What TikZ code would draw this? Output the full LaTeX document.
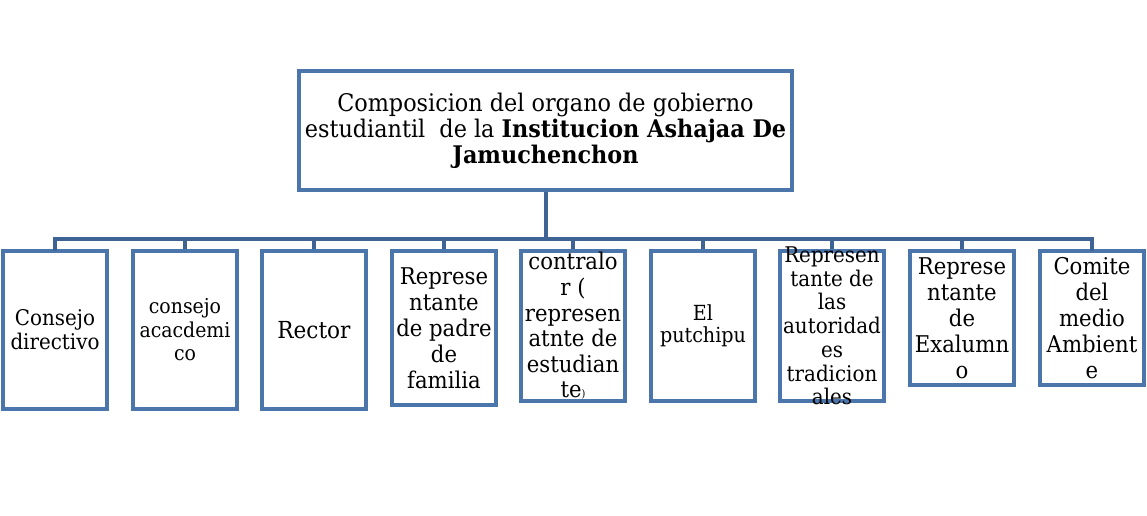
\documentclass[tikz,border=0pt]{standalone}
\usepackage{fontspec}
\setmainfont{DejaVu Serif}[FakeStretch=0.92]
\definecolor{boxcol}{RGB}{74,118,172}
\definecolor{linecol}{RGB}{62,100,150}
\tikzset{
  x=0.75pt,y=-0.75pt,
  orgbox/.style={draw=boxcol,line width=2.8pt,fill=white,inner sep=0pt,rectangle},
  smallbox/.style={orgbox,minimum width=78pt},
  conn/.style={draw=linecol,line width=3pt},
  lbl/.style={align=center,inner sep=0pt,text=black},
  fA/.style={font=\fontsize{17.3}{19.5}\selectfont},
}
\begin{document}
\begin{tikzpicture}
\useasboundingbox[fill=white] (0,0) rectangle (1147,516);
% top box
\node[orgbox,minimum width=369.75pt,minimum height=89.25pt] (top) at (545.5,130.5) {};
\node[lbl,font=\fontsize{18.2}{19.5}\selectfont] (toptxt) at (top.center) {Composicion del organo de gobierno\\estudiantil\ \ de la \textbf{Institucion Ashajaa De}\\\textbf{Jamuchenchon}};
% bottom boxes
\node[smallbox,minimum height=118.5pt] (b1) at (55,330) {};
\node[smallbox,minimum height=118.5pt] (b2) at (185,330) {};
\node[smallbox,minimum height=118.5pt] (b3) at (314,330) {};
\node[smallbox,minimum height=115.5pt] (b4) at (444,328) {};
\node[smallbox,minimum height=112.5pt] (b5) at (573,326) {};
\node[smallbox,minimum height=112.5pt] (b6) at (703,326) {};
\node[smallbox,minimum height=112.5pt] (b7) at (832,326) {};
\node[smallbox,minimum height=100.5pt] (b8) at (962,318) {};
\node[smallbox,minimum height=100.5pt] (b9) at (1092,318) {};
% texts
\node[lbl,font=\fontsize{16.2}{18}\selectfont] (t1) at (b1.center) {Consejo\\directivo};
\node[lbl,font=\fontsize{15.4}{17.6}\selectfont] (t2) at (b2.center) {consejo\\acacdemi\\co};
\node[lbl,font=\fontsize{17.6}{19.5}\selectfont] (t3) at (b3.center) {Rector};
\node[lbl,fA] (t4) at (b4.center) {Represe\\ntante\\de padre\\de\\familia};
\node[lbl,font=\fontsize{17.3}{19.2}\selectfont] (t5) at (b5.center) {contralo\\r (\\represen\\atnte de\\estudian\\te{\fontsize{8}{8}\selectfont )}};
\node[lbl,font=\fontsize{15.6}{16.8}\selectfont] (t6) at (b6.center) {El\\putchipu};
\node[lbl,font=\fontsize{16.2}{17.8}\selectfont] (t7) at (b7.center) {Represen\\tante de\\las\\autoridad\\es\\tradicion\\ales};
\node[lbl,fA] (t8) at (b8.center) {Represe\\ntante\\de\\Exalumn\\o};
\node[lbl,fA] (t9) at (b9.center) {Comite\\del\\medio\\Ambient\\e};
% connectors
\coordinate (bar) at (545.5,239);
\draw[conn] (top.south) -- (top.south |- bar);
\draw[conn,line cap=rect] (b1.north) -- (b1.north |- bar) -- (b9.north |- bar) -- (b9.north);
\foreach \k in {2,...,8}{
  \draw[conn,line width=2.6pt] (b\k.north) -- (b\k.north |- bar);
}
\end{tikzpicture}
\end{document}
